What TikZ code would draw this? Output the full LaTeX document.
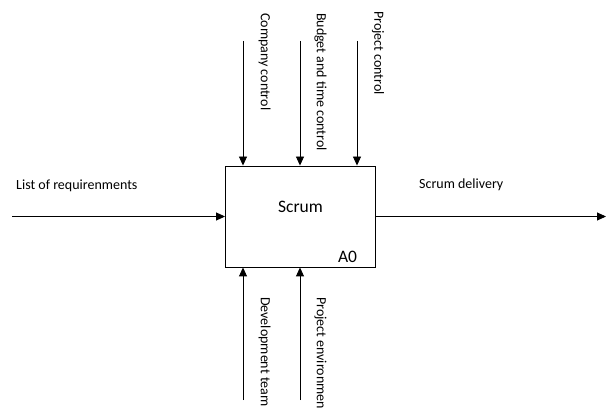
\documentclass[tikz,border=0pt]{standalone}
\usepackage{fontspec}
\setmainfont{Carlito}
\usetikzlibrary{arrows.meta}
\begin{document}
\begin{tikzpicture}[x=1pt,y=-1pt,
  flow/.style={line width=0.9pt,-{Triangle[length=9pt,width=8pt]}},
  lbl/.style={inner sep=0pt,font=\fontsize{14}{17}\selectfont},
  vlbl/.style={lbl,anchor=west,rotate=-90},
  box/.style={draw,line width=0.9pt,minimum width=150pt,minimum height=101pt,inner sep=0pt}]
\clip (0,0) rectangle (606,409);

% activity box
\node[box] (scrum) at (300.5,216.5) {};
\node[inner sep=0pt,font=\fontsize{17.5}{21}\selectfont] (title) at (300.5,206.5) {Scrum};
\node[inner sep=0pt,font=\fontsize{17.5}{21}\selectfont,anchor=center] (num) at (347.5,256.5) {A0};

% controls (top)
\coordinate (c1) at (243,41);
\coordinate (c2) at (300,41);
\coordinate (c3) at (357,41);
\draw[flow] (c1) -- (c1 |- scrum.north);
\draw[flow] (c2) -- (c2 |- scrum.north);
\draw[flow] (c3) -- (c3 |- scrum.north);
\node[vlbl] (lc1) at (264.5,13) {Company control};
\node[vlbl] (lc2) at (320.5,13) {Budget and time control};
\node[vlbl] (lc3) at (378,11) {Project control};

% mechanisms (bottom)
\coordinate (m1) at (243,400);
\coordinate (m2) at (300,400);
\draw[flow] (m1) -- (m1 |- scrum.south);
\draw[flow] (m2) -- (m2 |- scrum.south);
\node[vlbl] (lm1) at (264.5,297) {Development team};
\node[vlbl] (lm2) at (320.5,297) {Project environmen};

% input and output
\coordinate (in) at (12,216.5);
\coordinate (out) at (606,216.5);
\draw[flow] (in) -- (scrum.west);
\draw[flow] (scrum.east) -- (out);
\node[lbl,anchor=west] (lin) at (16,186) {List of requirenments};
\node[lbl,anchor=west] (lout) at (419,185) {Scrum delivery};
\end{tikzpicture}
\end{document}
